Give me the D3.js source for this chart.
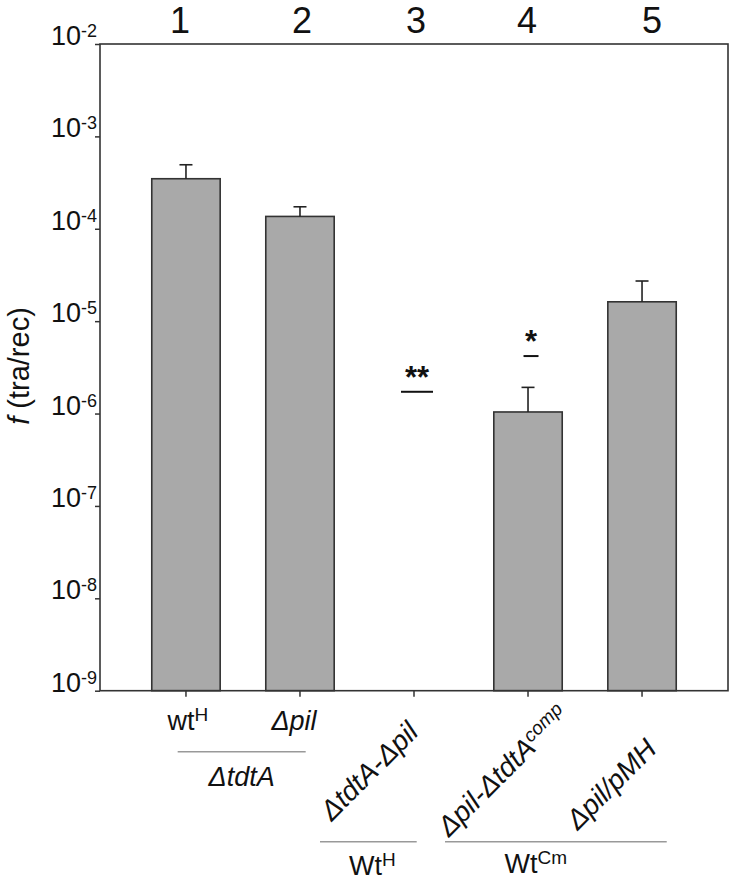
<!DOCTYPE html>
<html><head><meta charset="utf-8">
<script src="https://cdn.jsdelivr.net/npm/d3@7"></script>
<style>body{margin:0;background:#fff} svg text{font-family:"Liberation Sans",Arial,sans-serif;fill:#111}</style>
</head><body><svg id="c" width="733" height="885"></svg>
<script>
// ---------------- data ----------------
const laneNumbers = ["1", "2", "3", "4", "5"];
const categories = ["wt^H", "Δpil", "ΔtdtA-Δpil", "Δpil-ΔtdtA^comp", "Δpil/pMH"];
const categoryItalic = [false, true, true, true, true];
const values = [3.48e-4, 1.36e-4, null, 1.04e-6, 1.62e-5];
const errorTops = [4.93e-4, 1.73e-4, null, 1.92e-6, 2.72e-5];
const sigMarks = ["", "", "**", "*", ""];
const sigLevels = [null, null, 1.72e-6, 4.19e-6, null];
const yTickExponents = [-2, -3, -4, -5, -6, -7, -8, -9];
const groupNames = ["ΔtdtA", "Wt^H", "Wt^Cm"];
const groupItalic = [true, false, false];
const groupFirst = [0, 2, 3];
const groupLast = [1, 2, 4];

// ---------------- layout ----------------
const M = {left: 100, right: 728, top: 44, bottom: 690.7};
const svg = d3.select("#c");
const axisColor = "#333";

const x = d3.scaleBand().domain(d3.range(categories.length))
  .range([M.left, M.right]).paddingInner(0.4).paddingOuter(0.454);
const y = d3.scaleLog().domain([1e-9, 1e-2]).range([M.bottom, M.top]);
const xc = i => x(i) + x.bandwidth() / 2;

function rich(sel, str, size, supSize, raise, italic) {
  const parts = str.split("^");
  sel.append("tspan").text(parts[0]).attr("font-size", size)
    .attr("font-style", italic ? "italic" : "normal");
  if (parts.length > 1) {
    sel.append("tspan").text(parts[1]).attr("font-size", supSize)
      .attr("dy", -raise).attr("font-style", italic ? "italic" : "normal");
  }
}

// bars
const barData = values.map((v, i) => ({i, v})).filter(d => d.v != null);
svg.append("g").selectAll("rect").data(barData).join("rect")
  .attr("x", d => x(d.i))
  .attr("width", x.bandwidth())
  .attr("y", d => y(d.v))
  .attr("height", d => y(1e-9) - y(d.v))
  .attr("fill", "#a9a9a9").attr("stroke", axisColor).attr("stroke-width", 1.6);

// error bars
const eg = svg.append("g").attr("stroke", "#222").attr("stroke-width", 1.6);
barData.forEach(d => {
  const e = errorTops[d.i];
  eg.append("line").attr("x1", xc(d.i)).attr("x2", xc(d.i)).attr("y1", y(d.v)).attr("y2", y(e));
  eg.append("line").attr("x1", xc(d.i) - 6.5).attr("x2", xc(d.i) + 6.5).attr("y1", y(e)).attr("y2", y(e));
});

// significance marks
sigMarks.forEach((m, i) => {
  if (!m) return;
  const cx = xc(i) + 3, ly = y(sigLevels[i]);
  const hw = m.length === 2 ? 16 : 7.5;
  svg.append("line").attr("x1", cx - hw).attr("x2", cx + hw).attr("y1", ly).attr("y2", ly)
    .attr("stroke", "#111").attr("stroke-width", 2);
  svg.append("text").attr("x", cx).attr("y", ly - 4).attr("text-anchor", "middle")
    .attr("font-size", 31).attr("font-weight", "bold").text(m);
});

// axes
const ay = svg.append("g").attr("transform", `translate(${M.left},0)`)
  .call(d3.axisLeft(y).tickValues(yTickExponents.map(e => Math.pow(10, e))).tickSize(5).tickFormat(""));
const ax = svg.append("g").attr("transform", `translate(0,${M.bottom})`)
  .call(d3.axisBottom(x).tickSize(6).tickFormat(""));
[ay, ax].forEach(g => {
  g.select(".domain").remove();
  g.selectAll("line").attr("stroke", axisColor).attr("stroke-width", 1.5);
});
svg.append("rect").attr("x", M.left).attr("y", M.top)
  .attr("width", M.right - M.left).attr("height", M.bottom - M.top)
  .attr("fill", "none").attr("stroke", axisColor).attr("stroke-width", 1.6);

// y tick labels
yTickExponents.forEach(e => {
  const t = svg.append("text").attr("x", M.left - 3).attr("y", y(Math.pow(10, e)) + 1)
    .attr("text-anchor", "end");
  t.append("tspan").text("10").attr("font-size", 27);
  t.append("tspan").text(String(e)).attr("font-size", 18).attr("dy", -8);
});

// y title
const yt = svg.append("text").attr("transform", "translate(29,366) rotate(-90)")
  .attr("text-anchor", "middle").attr("font-size", 29);
yt.append("tspan").text("f").attr("font-style", "italic");
yt.append("tspan").text(" (tra/rec)");

// lane numbers on top
const laneNudge = [-6, 2, 2, -1, 10];
laneNumbers.forEach((n, i) => {
  svg.append("text").attr("x", xc(i) + laneNudge[i]).attr("y", 33)
    .attr("text-anchor", "middle").attr("font-size", 36).text(n);
});

// category labels
const labelPos = [
  {dx: 2, dy: 39, rot: 0},
  {dx: -6, dy: 39, rot: 0},
  {dx: 6, dy: 43, rot: -45},
  {dx: 42, dy: 26, rot: -45},
  {dx: 16, dy: 60, rot: -45}
];
categories.forEach((c, i) => {
  const p = labelPos[i];
  const t = svg.append("text")
    .attr("transform", `translate(${xc(i) + p.dx},${M.bottom + p.dy}) rotate(${p.rot})`)
    .attr("text-anchor", p.rot ? "end" : "middle");
  rich(t, c, p.rot ? 28 : 27, 19, 9, categoryItalic[i]);
});

// group lines and names
const groupLine = [
  {l: -8.3, r: 5.7, y: 751.7, ty: 786, tdx: 0},
  {l: -94, r: 2.7, y: 841.7, ty: 875, tdx: 4},
  {l: -83, r: 24.7, y: 841.7, ty: 873, tdx: -20}
];
groupNames.forEach((g, i) => {
  const p = groupLine[i];
  const x1 = xc(groupFirst[i]) + p.l, x2 = xc(groupLast[i]) + p.r;
  svg.append("line").attr("x1", x1).attr("x2", x2).attr("y1", p.y).attr("y2", p.y)
    .attr("stroke", "#999").attr("stroke-width", 1.5);
  const t = svg.append("text").attr("x", (x1 + x2) / 2 + p.tdx).attr("y", p.ty)
    .attr("text-anchor", "middle");
  rich(t, g, 27, 19, 9, groupItalic[i]);
});
</script></body></html>
